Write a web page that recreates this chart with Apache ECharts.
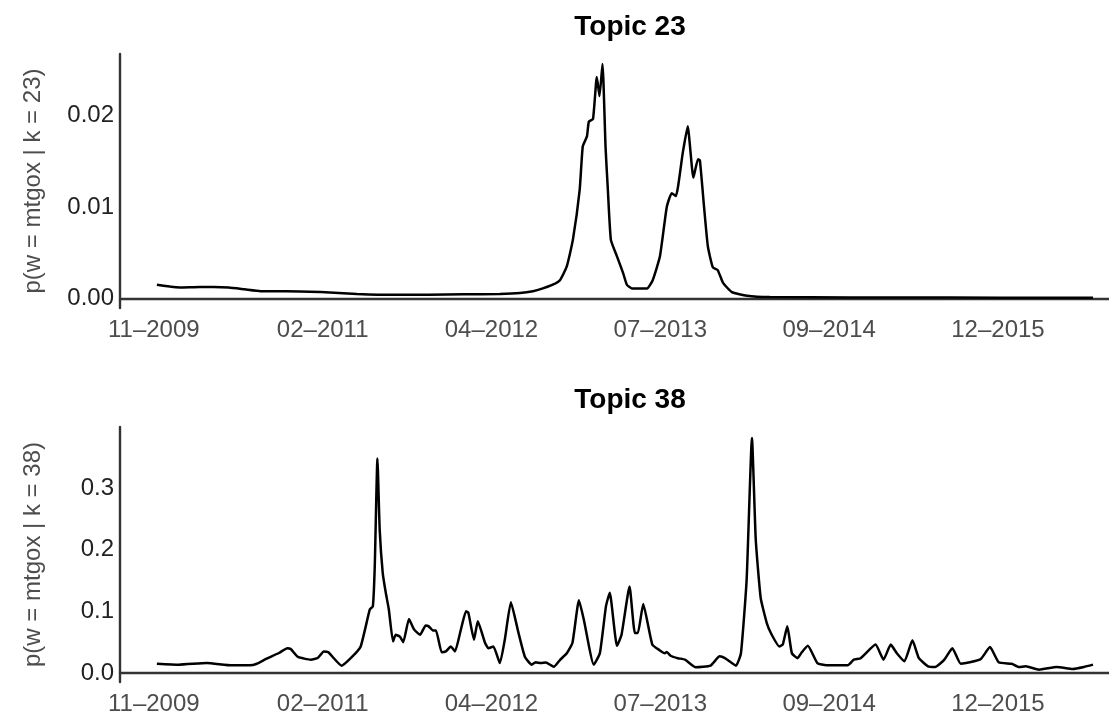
<!DOCTYPE html>
<html>
<head>
<meta charset="utf-8">
<script src="https://cdn.jsdelivr.net/npm/echarts@6/dist/echarts.min.js"></script>
<style>
html,body{margin:0;padding:0;background:#fff;}
#chart{width:1109px;height:716px;}
</style>
</head>
<body>
<div id="chart"></div>
<script>
// ---- Data ----
const dates23 = ['2009-11-23','2009-12-27','2010-01-22','2010-03-16','2010-04-22','2010-05-31','2010-07-12','2010-08-23','2010-10-28','2011-01-28','2011-05-03','2011-08-06','2011-11-08','2012-02-08','2012-05-13','2012-07-05','2012-08-08','2012-09-03','2012-09-29','2012-10-18','2012-11-05','2012-11-21','2012-12-09','2012-12-17','2012-12-28','2013-01-02','2013-01-13','2013-01-23','2013-01-30','2013-02-07','2013-02-15','2013-02-21','2013-03-01','2013-03-17','2013-04-02','2013-04-12','2013-04-25','2013-06-04','2013-06-19','2013-07-08','2013-07-26','2013-08-08','2013-08-19','2013-09-06','2013-09-19','2013-10-04','2013-10-16','2013-10-21','2013-11-01','2013-11-11','2013-11-24','2013-12-07','2013-12-21','2014-01-13','2014-02-22','2014-04-23','2014-11-20','2015-08-10','2016-04-29','2016-08-20'];
const values23 = [0.0015,0.0013,0.0012,0.00125,0.00125,0.0012,0.001,0.0008,0.0008,0.0007,0.0005,0.0004,0.0004,0.00045,0.0005,0.0006,0.0008,0.0011,0.0015,0.002,0.0035,0.0064,0.0119,0.0166,0.0177,0.0193,0.0196,0.0242,0.0221,0.0256,0.0165,0.0119,0.0064,0.0046,0.0028,0.0015,0.0011,0.0011,0.002,0.0046,0.01,0.0115,0.0112,0.0159,0.0188,0.0132,0.0152,0.0151,0.01,0.0057,0.0034,0.0031,0.0017,0.0007,0.0003,0.00015,0.00012,0.0001,0.00008,0.00007];

const dates38 = ['2009-11-23','2010-01-20','2010-04-03','2010-06-08','2010-07-25','2010-08-13','2010-09-06','2010-10-10','2010-11-01','2010-11-10','2010-11-29','2011-01-02','2011-01-20','2011-02-05','2011-02-17','2011-03-24','2011-04-20','2011-05-13','2011-06-06','2011-06-14','2011-06-19','2011-06-26','2011-07-02','2011-07-10','2011-07-18','2011-07-26','2011-08-06','2011-08-13','2011-08-24','2011-09-02','2011-09-17','2011-09-30','2011-10-16','2011-10-31','2011-11-07','2011-11-19','2011-11-27','2011-12-12','2011-12-23','2012-01-05','2012-01-16','2012-01-31','2012-02-14','2012-02-20','2012-03-06','2012-03-16','2012-04-04','2012-04-13','2012-04-26','2012-05-13','2012-05-26','2012-06-11','2012-07-01','2012-07-18','2012-08-05','2012-08-15','2012-08-29','2012-09-11','2012-10-02','2012-10-18','2012-11-05','2012-11-20','2012-12-07','2012-12-20','2013-01-15','2013-01-31','2013-02-16','2013-02-26','2013-03-17','2013-03-29','2013-04-19','2013-05-03','2013-05-11','2013-05-25','2013-06-18','2013-07-07','2013-07-21','2013-07-26','2013-08-05','2013-08-24','2013-09-12','2013-10-10','2013-11-18','2013-12-12','2013-12-26','2014-01-24','2014-02-06','2014-02-21','2014-03-07','2014-03-17','2014-03-30','2014-04-15','2014-04-28','2014-05-18','2014-05-27','2014-06-08','2014-06-20','2014-07-05','2014-07-16','2014-08-01','2014-08-26','2014-09-19','2014-11-14','2014-11-30','2014-12-18','2015-01-26','2015-02-16','2015-03-07','2015-03-23','2015-04-12','2015-05-03','2015-05-20','2015-06-13','2015-07-02','2015-07-26','2015-08-16','2015-09-07','2015-10-01','2015-10-30','2015-11-23','2015-12-16','2016-01-19','2016-02-07','2016-02-25','2016-03-31','2016-05-17','2016-06-28','2016-07-27','2016-08-20'];
const values38 = [0.0151,0.0135,0.0162,0.0124,0.0124,0.015,0.0227,0.0324,0.04,0.039,0.026,0.0216,0.0243,0.035,0.0335,0.0119,0.026,0.043,0.103,0.108,0.173,0.3476,0.232,0.162,0.13,0.103,0.051,0.062,0.059,0.05,0.0876,0.071,0.062,0.077,0.076,0.069,0.069,0.0335,0.035,0.043,0.035,0.069,0.1,0.098,0.054,0.084,0.049,0.04,0.043,0.016,0.054,0.1146,0.065,0.026,0.0135,0.0173,0.016,0.017,0.010,0.021,0.032,0.049,0.118,0.086,0.0135,0.032,0.108,0.13,0.044,0.062,0.14,0.065,0.065,0.112,0.046,0.037,0.032,0.034,0.028,0.024,0.0216,0.0092,0.0119,0.027,0.024,0.0119,0.032,0.151,0.381,0.216,0.1216,0.081,0.062,0.043,0.046,0.0757,0.032,0.024,0.0335,0.044,0.016,0.0124,0.0124,0.0216,0.024,0.046,0.0216,0.046,0.032,0.019,0.053,0.024,0.0108,0.0097,0.0216,0.04,0.015,0.0173,0.0227,0.042,0.0173,0.015,0.0097,0.0108,0.0054,0.0097,0.0065,0.0097,0.0135];

const xTickDates = ['2009-11-15','2011-02-02','2012-04-21','2013-07-09','2014-09-26','2015-12-14'];
const xTickLabels = ['11\u20132009','02\u20132011','04\u20132012','07\u20132013','09\u20132014','12\u20132015'];
const yTicks23 = [0, 0.01, 0.02];
const yTicks38 = [0, 0.1, 0.2, 0.3];
const titles = ['Topic 23', 'Topic 38'];
const yNames = ['p(w = mtgox | k = 23)', 'p(w = mtgox | k = 38)'];

// ---- helpers ----
const ts = s => new Date(s + 'T00:00:00Z').getTime();
const xTickVals = xTickDates.map(ts);
const pair = (ds, vs) => ds.map((d, i) => [ts(d), vs[i]]);

const FONT = 'Liberation Sans, Arial, Helvetica, sans-serif';
const AX = '#333333';
const TXT = '#4d4d4d';

function xAxis(gi) {
  return {
    type: 'value', gridIndex: gi,
    min: ts('2009-08-18'), max: ts('2016-10-01'),
    axisLine: { show: true, lineStyle: { color: AX, width: 2.4 } },
    axisTick: { show: false, customValues: xTickVals },
    splitLine: { show: false },
    axisLabel: {
      customValues: xTickVals,
      formatter: v => { const i = xTickVals.indexOf(v); return i >= 0 ? xTickLabels[i] : ''; },
      color: TXT, fontSize: 24, fontFamily: FONT, margin: 10
    }
  };
}
function yAxis(gi, min, max, ticks, dec) {
  return {
    type: 'value', gridIndex: gi, min: min, max: max,
    name: yNames[gi], nameLocation: 'middle', nameGap: 75, nameRotate: 90,
    nameTextStyle: { color: TXT, fontSize: 24, fontFamily: FONT },
    axisLine: { show: true, lineStyle: { color: AX, width: 2.4 } },
    axisTick: { show: false, customValues: ticks },
    splitLine: { show: false },
    axisLabel: {
      customValues: ticks,
      formatter: v => v.toFixed(dec),
      color: '#222', fontSize: 24, fontFamily: FONT, margin: 6
    }
  };
}

const chart = echarts.init(document.getElementById('chart'), null, { renderer: 'canvas' });
chart.setOption({
  backgroundColor: '#ffffff',
  animation: false,
  title: [
    { text: titles[0], left: 625, top: 8, textAlign: 'center',
      textStyle: { fontSize: 28, fontWeight: 'bold', color: '#000', fontFamily: FONT } },
    { text: titles[1], left: 625, top: 381, textAlign: 'center',
      textStyle: { fontSize: 28, fontWeight: 'bold', color: '#000', fontFamily: FONT } }
  ],
  grid: [
    { left: 120, top: 54, width: 989, height: 254, containLabel: false },
    { left: 120, top: 427, width: 989, height: 255, containLabel: false }
  ],
  xAxis: [xAxis(0), xAxis(1)],
  yAxis: [yAxis(0, -0.00104, 0.0267, yTicks23, 2), yAxis(1, -0.0146, 0.3987, yTicks38, 1)],
  series: [
    { type: 'line', xAxisIndex: 0, yAxisIndex: 0, data: pair(dates23, values23),
      showSymbol: false, smooth: 0.15, lineStyle: { color: '#000', width: 2.5 } },
    { type: 'line', xAxisIndex: 1, yAxisIndex: 1, data: pair(dates38, values38),
      showSymbol: false, smooth: 0.15, lineStyle: { color: '#000', width: 2.5 } }
  ]
});
</script>
</body>
</html>
